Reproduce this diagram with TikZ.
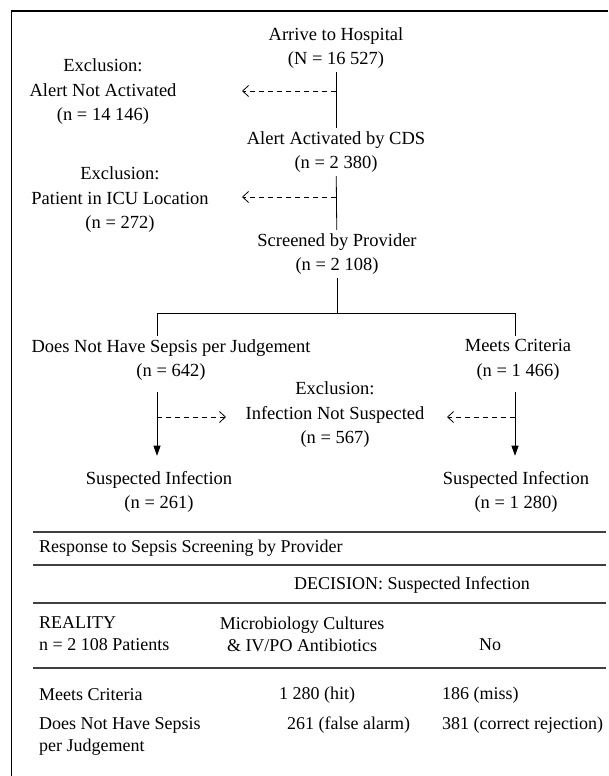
\documentclass[tikz,border=0pt]{standalone}
\usepackage{fontspec}
\setmainfont{Liberation Serif}
\usetikzlibrary{arrows.meta}

\begin{document}
\begin{tikzpicture}[x=1pt,y=-1pt,
  every node/.style={font=\fontsize{18.5}{24.5}\selectfont, align=center},
  flow/.style={line width=0.8pt},
  excl/.style={line width=0.8pt, dash pattern=on 5pt off 4pt, -{Straight Barb[length=6pt,width=11pt]}},
  down/.style={line width=0.8pt, -{Triangle[length=10pt,width=7pt]}, shorten <=8pt, shorten >=12pt},
  rule/.style={line width=1.2pt, black!75},
  cell/.style={font=\fontsize{18}{22}\selectfont},
  tab/.style={cell, anchor=west, align=left, inner sep=0pt}]
\useasboundingbox (0,0) rectangle (608,776);
%\draw[help lines,step=50] (0,0) grid (608,776);
\draw[line width=1.5pt] (11.5,776) -- (11.5,11) -- (608,11);

% flow chart
\node (arrive) at (336,48) {Arrive to Hospital\\(N = 16 527)};
\node (excl1) at (103,92) {Exclusion:\\Alert Not Activated\\(n = 14 146)};
\node (alert) at (336,152) {Alert Activated by CDS\\(n = 2 380)};
\node (excl2) at (120,200) {Exclusion:\\Patient in ICU Location\\(n = 272)};
\node (screen) at (337,254) {Screened by Provider\\(n = 2 108)};
\node (nosep) at (171,360) {Does Not Have Sepsis per Judgement\\(n = 642)};
\node (meets) at (518,360) {Meets Criteria\\(n = 1 466)};
\node (excl3) at (335,415) {Exclusion:\\Infection Not Suspected\\(n = 567)};
\node (suspl) at (159,492) {Suspected Infection\\(n = 261)};
\node (suspr) at (516,492) {Suspected Infection\\(n = 1 280)};

\coordinate (t1) at (242,91);
\coordinate (t2) at (242,197);
\coordinate (bl) at (157,313);
\coordinate (br) at (515,313);
\coordinate (t3) at (226,417);
\coordinate (t4) at (447,417);

\draw[flow] (arrive) -- (alert);
\draw[excl] (t1 -| arrive) -- (t1);
\draw[flow] (alert) -- (screen);
\draw[excl] (t2 -| alert) -- (t2);
\draw[flow] (screen) -- (screen |- bl);
\draw[flow] (bl |- nosep.north) -- (bl) -- (br) -- (br |- meets.north);
\draw[down] (bl |- nosep.south) -- (bl |- suspl.north);
\draw[down] (br |- meets.south) -- (br |- suspr.north);
\draw[excl] (t3 -| bl) -- (t3);
\draw[excl] (t4 -| br) -- (t4);

% table
\draw[rule] (33,532) -- (606,532);
\draw[rule] (33,565) -- (606,565);
\draw[rule] (33,603) -- (606,603);
\draw[rule] (33,668) -- (606,668);
\node[tab] (resp) at (39,548) {Response to Sepsis Screening by Provider};
\node[cell] (dec) at (412,585) {DECISION: Suspected Infection};
\node[tab] (real) at (39,634) {REALITY\\n = 2 108 Patients};
\node[cell] (micro) at (302,634) {Microbiology Cultures\\\& IV/PO Antibiotics};
\node[cell] (no) at (490,645) {No};
\node[tab] (rowmeets) at (39,695) {Meets Criteria};
\node[tab] (hit) at (279,695) {1 280 (hit)};
\node[tab] (miss) at (442,695) {186 (miss)};
\node[tab] (rownosep) at (39,736) {Does Not Have Sepsis\\per Judgement};
\node[tab] (falarm) at (287,725) {261 (false alarm)};
\node[tab] (reject) at (442,725) {381 (correct rejection)};
\end{tikzpicture}
\end{document}
